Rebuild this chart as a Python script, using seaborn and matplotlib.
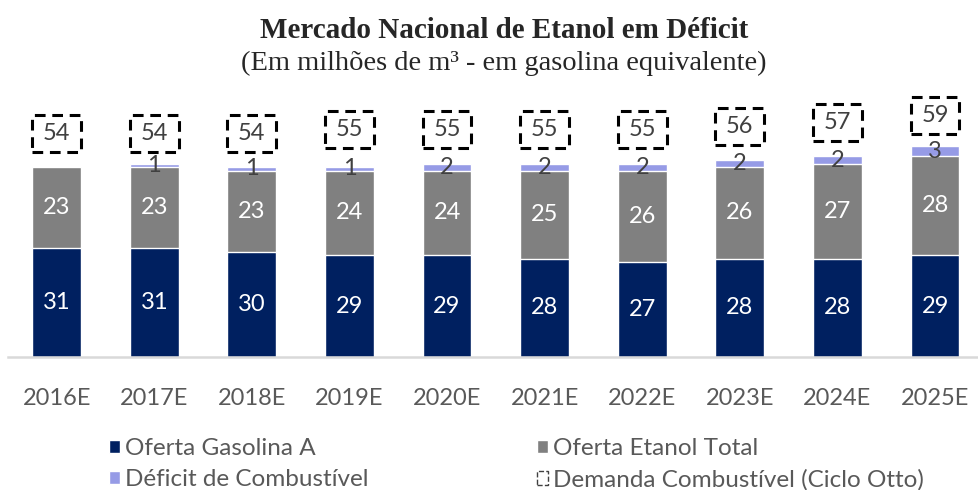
import numpy as np
import pandas as pd
import seaborn as sns
import matplotlib.pyplot as plt
from matplotlib.patches import Patch

anos = ['2016E', '2017E', '2018E', '2019E', '2020E', '2021E', '2022E', '2023E', '2024E', '2025E']
gasolina_a = [31, 31, 30, 29, 29, 28, 27, 28, 28, 29]
etanol_total = [23, 23, 23, 24, 24, 25, 26, 26, 27, 28]
deficit = [0, 1, 1, 1, 2, 2, 2, 2, 2, 3]
demanda = [54, 54, 54, 55, 55, 55, 55, 56, 57, 59]

c_gas = '#002060'
c_eta = '#808080'
c_def = '#969BE6'
c_txt = '#404040'

sns.set_theme(style='white')
plt.rcParams['font.family'] = ['Lato', 'DejaVu Sans']

df = pd.DataFrame({'ano': anos, 'gas': gasolina_a, 'eta': etanol_total, 'def': deficit, 'dem': demanda})
df['gas_eta'] = df['gas'] + df['eta']
df['total'] = df['gas_eta'] + df['def']

fig = plt.figure(figsize=(9.79, 4.90), dpi=100)
ax = fig.add_axes([0.008, 0.271, 0.992, 0.539])

# stacked bars drawn back to front
sns.barplot(ax=ax, data=df, x='ano', y='total', color=c_def, width=0.5, saturation=1)
sns.barplot(ax=ax, data=df, x='ano', y='gas_eta', color=c_eta, width=0.5, saturation=1)
sns.barplot(ax=ax, data=df, x='ano', y='gas', color=c_gas, width=0.5, saturation=1)

xs = np.arange(len(anos))
# dashed box for demanda
gap, box_h = 4.3, 10.5
ax.bar(xs, box_h, bottom=df['dem'] + gap, width=0.5, fill=False,
       edgecolor='black', linestyle=(0, (3.5, 2.2)), linewidth=2.2)

fs = 17
for i, r in df.iterrows():
    ax.text(i, r['gas'] / 2, f"{r['gas']}", ha='center', va='center', color='white', fontsize=fs)
    ax.text(i, r['gas'] + r['eta'] / 2, f"{r['eta']}", ha='center', va='center', color='white', fontsize=fs)
    if r['def'] > 0:
        ax.text(i, r['gas_eta'] + r['def'] / 2, f"{r['def']}", ha='center', va='center', color=c_txt, fontsize=fs)
    ax.text(i, r['dem'] + gap + box_h / 2, f"{r['dem']}", ha='center', va='center', color=c_txt, fontsize=fs)

ax.set_ylim(0, 75)
ax.set_xlim(-0.5, 9.45)
ax.set_xlabel('')
ax.set_ylabel('')
ax.set_yticks([])
for s in ['top', 'right', 'left']:
    ax.spines[s].set_visible(False)
ax.spines['bottom'].set_color('#D9D9D9')
ax.spines['bottom'].set_linewidth(1.8)
ax.tick_params(axis='x', length=0, pad=22, labelsize=17, labelcolor='#595959')

fig.text(0.515, 0.937, 'Mercado Nacional de Etanol em Déficit', ha='center', va='center',
         fontsize=21, fontweight='bold', family='Liberation Serif')
fig.text(0.515, 0.871, '(Em milhões de m³ - em gasolina equivalente)', ha='center', va='center',
         fontsize=20.5, family='Liberation Serif')

# column-first order so rows read: gasolina, etanol / deficit, demanda
handles = [
    Patch(facecolor=c_gas, label='Oferta Gasolina A'),
    Patch(facecolor=c_def, label='Déficit de Combustível'),
    Patch(facecolor=c_eta, label='Oferta Etanol Total'),
    Patch(facecolor='white', edgecolor='#404040', linestyle='--', label='Demanda Combustível (Ciclo Otto)'),
]
fig.legend(handles=handles, ncol=2, loc='lower left', bbox_to_anchor=(0.089, -0.046), frameon=False,
           fontsize=17.5, labelcolor='#595959', handlelength=0.45, handleheight=0.45, handletextpad=0.2,
           columnspacing=6.95, labelspacing=0.4)

plt.savefig('out.png', dpi=100)
